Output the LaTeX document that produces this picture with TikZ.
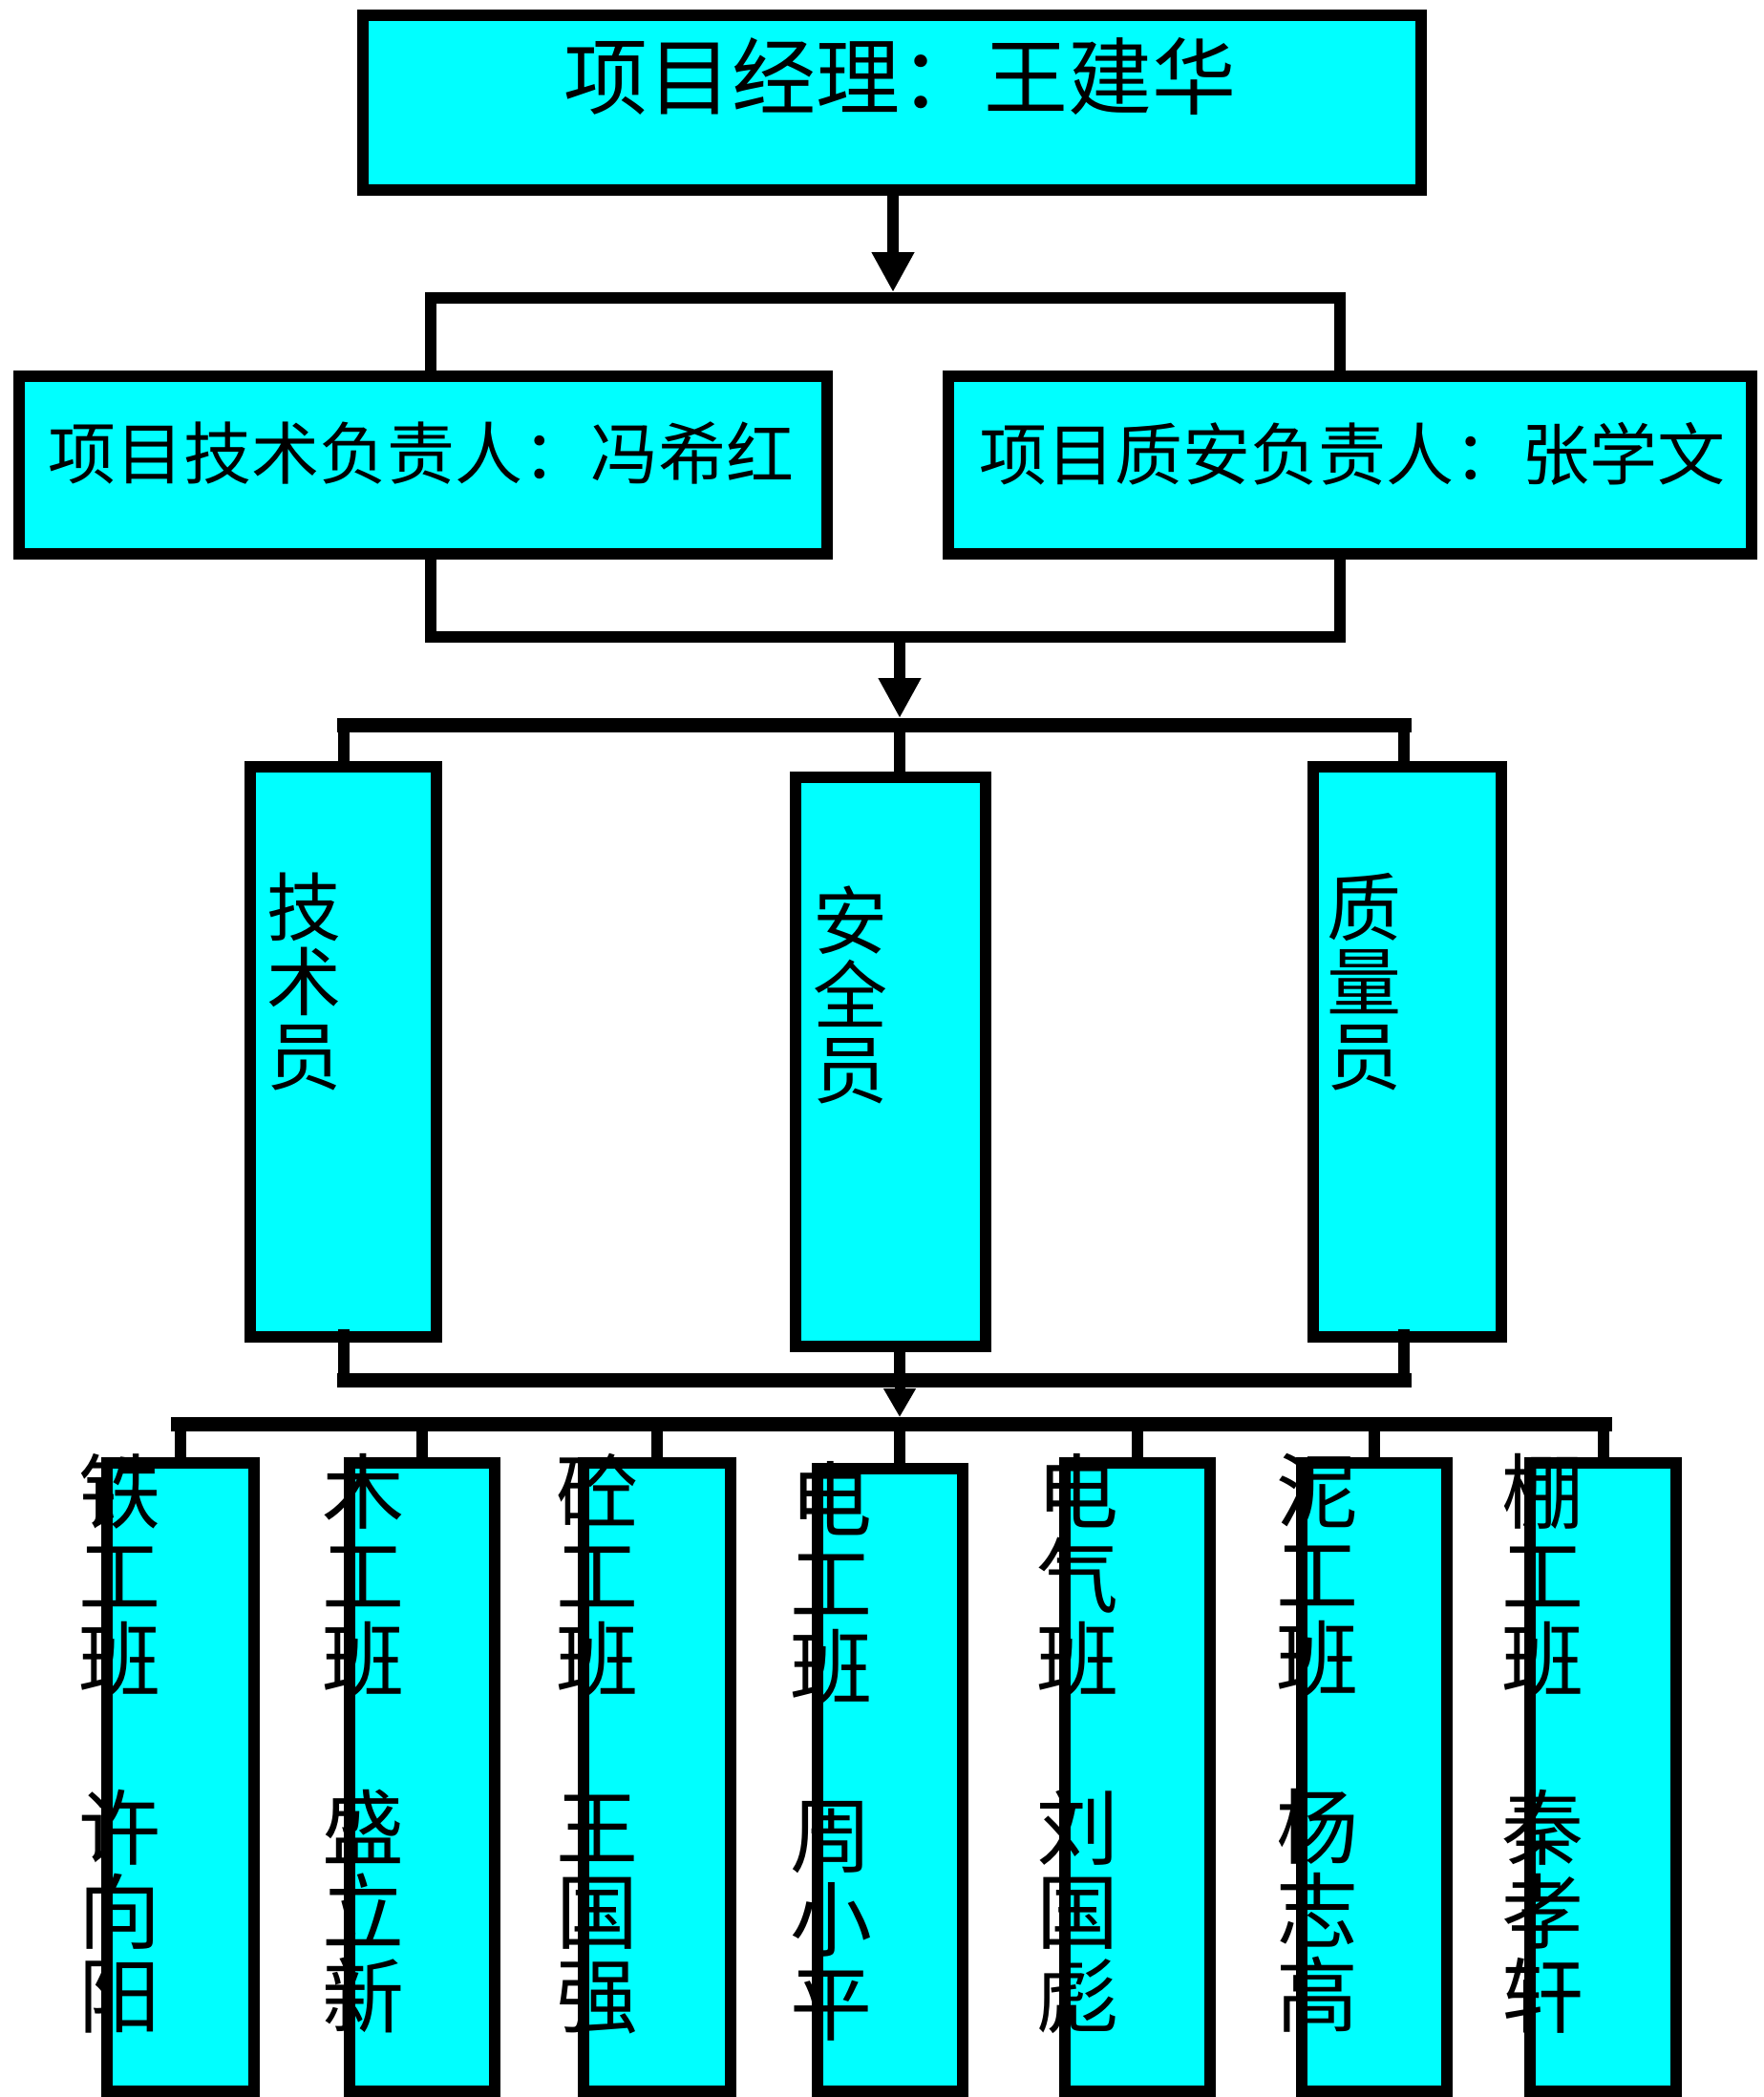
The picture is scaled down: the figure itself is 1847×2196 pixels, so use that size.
\documentclass[tikz,border=0pt]{standalone}
\usepackage{fontspec}
\setmainfont{Noto Sans CJK SC}
\usetikzlibrary{arrows.meta}
\definecolor{cyanfill}{RGB}{0,255,255}
\begin{document}
\begin{tikzpicture}[x=1pt,y=-1pt,
  cbox/.style={rectangle,draw=black,fill=cyanfill,line width=12pt,inner sep=0pt},
  lbl/.style={inner sep=0pt,anchor=north,align=center,text=black},
  wire/.style={line width=12pt},
  bus/.style={line width=15pt,line cap=rect},
  arr/.style={line width=12pt,-{Triangle[width=42pt,length=42pt]}},
  arrsm/.style={line width=11pt,-{Triangle[width=32pt,length=30pt]}}]

\useasboundingbox (0,0) rectangle (1847,2196);

% project manager
\node[cbox,minimum width=1108,minimum height=183] (pm) at (934,107.5) {};
% technical and quality/safety leads
\node[cbox,minimum width=846,minimum height=186] (tech) at (443,487) {};
\node[cbox,minimum width=841,minimum height=186] (qs) at (1413.5,487) {};
% staff
\node[cbox,minimum width=195,minimum height=597] (js) at (359.5,1101.5) {};
\node[cbox,minimum width=199,minimum height=596] (aq) at (932.5,1112) {};
\node[cbox,minimum width=197,minimum height=597] (zl) at (1473.5,1101.5) {};
% work teams
\node[cbox,minimum width=154,minimum height=658] (t1) at (189,1861) {};
\node[cbox,minimum width=152,minimum height=658] (t2) at (442,1861) {};
\node[cbox,minimum width=154,minimum height=658] (t3) at (688,1861) {};
\node[cbox,minimum width=152,minimum height=652] (t4) at (932,1864) {};
\node[cbox,minimum width=152,minimum height=658] (t5) at (1191,1861) {};
\node[cbox,minimum width=152,minimum height=658] (t6) at (1439,1861) {};
\node[cbox,minimum width=153,minimum height=658] (t7) at (1678.5,1861) {};

% bus points
\coordinate (b1l) at (451,312);  \coordinate (b1r) at (1403,312); \coordinate (b1m) at (935,312);
\coordinate (b2l) at (451,667);  \coordinate (b2r) at (1403,667); \coordinate (b2m) at (942,667);
\coordinate (b3l) at (360,759);  \coordinate (b3r) at (1470,759); \coordinate (b3m) at (942,759);
\coordinate (b4l) at (360,1445); \coordinate (b4r) at (1470,1445); \coordinate (b4m) at (942,1445);
\coordinate (b5l) at (179,1491); \coordinate (b5r) at (1688,1491); \coordinate (b5m) at (942,1491);

% manager -> leads
\draw[arr,shorten >=6pt] (pm.south -| b1m) -- (b1m);
\draw[wire] (tech.north -| b1l) -- (b1l) -- (b1r) -- (qs.north -| b1r);

% leads -> staff
\draw[wire] (tech.south -| b2l) -- (b2l) -- (b2r) -- (qs.south -| b2r);
\draw[arr,shorten >=7pt] (b2m) -- (b2m |- b3m);
\draw[bus] (b3l) -- (b3r);
\draw[wire] (b3l) -- (js.north -| b3l);
\draw[wire] (b3m) -- (aq.north -| b3m);
\draw[wire] (b3r) -- (zl.north -| b3r);

% staff -> teams
\draw[wire,shorten <=-14pt] (js.south -| b4l) -- (b4l);
\draw[wire,shorten <=-12pt] (aq.south -| b4m) -- (b4m);
\draw[wire,shorten <=-14pt] (zl.south -| b4r) -- (b4r);
\draw[bus] (b4l) -- (b4r);
\draw[arrsm,shorten >=7pt] (b4m) -- (b4m |- b5m);
\draw[bus,line cap=butt] (b5l) -- (b5r);
\draw[wire] (t1.north |- b5m) -- (t1.north);
\draw[wire] (t2.north |- b5m) -- (t2.north);
\draw[wire] (t3.north |- b5m) -- (t3.north);
\draw[wire] (b5m) -- (t4.north -| b5m);
\draw[wire] (t5.north |- b5m) -- (t5.north);
\draw[wire] (t6.north |- b5m) -- (t6.north);
\draw[wire] (t7.north |- b5m) -- (t7.north);

% labels
\node[lbl,font=\fontsize{88}{88}\selectfont] (pm-t) at (942,39) {项目经理：王建华};
\node[lbl,font=\fontsize{71}{71}\selectfont] (tech-t) at (441,442) {项目技术负责人：冯希红};
\node[lbl,font=\fontsize{71}{71}\selectfont] (qs-t) at (1416,442) {项目质安负责人：张学文};
\node[lbl,font=\fontsize{78}{78}\selectfont] (js-t) at (318,914) {技\\术\\员};
\node[lbl,font=\fontsize{78}{78}\selectfont] (aq-t) at (890,928) {安\\全\\员};
\node[lbl,font=\fontsize{78}{78}\selectfont] (zl-t) at (1428,914) {质\\量\\员};
\begin{scope}[every node/.append style={lbl,font=\fontsize{86}{88}\selectfont}]
\node (t1-t) at (125,1522) {铁\\工\\班\\[88pt]许\\向\\阳};
\node (t2-t) at (380,1522) {木\\工\\班\\[88pt]盛\\立\\新};
\node (t3-t) at (625,1522) {砼\\工\\班\\[88pt]王\\国\\强};
\node (t4-t) at (870,1530) {电\\工\\班\\[88pt]周\\小\\平};
\node (t5-t) at (1128,1522) {电\\气\\班\\[88pt]刘\\国\\彪};
\node (t6-t) at (1379,1522) {泥\\工\\班\\[88pt]杨\\志\\高};
\node (t7-t) at (1615,1522) {棚\\工\\班\\[88pt]秦\\孝\\轩};
\end{scope}
\end{tikzpicture}
\end{document}
